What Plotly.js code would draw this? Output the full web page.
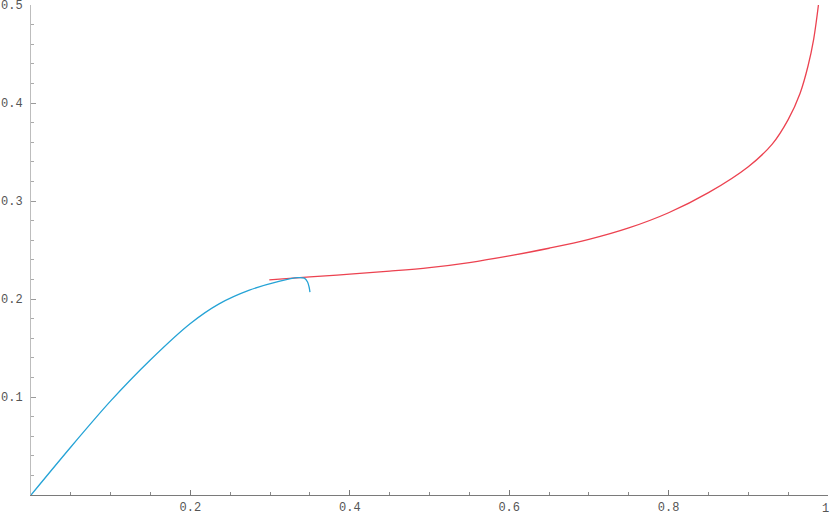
<!DOCTYPE html>
<html>
<head>
<meta charset="utf-8">
<script src="https://cdn.plot.ly/plotly-3.0.1.min.js"></script>
<style>
  html, body { margin: 0; padding: 0; background: #fff; }
  #chart { width: 830px; height: 515px; }
</style>
</head>
<body>
<div id="chart"></div>
<script>
// blue curve (rises, flattens, hooks down near x = 0.35)
var blueX = [0, 0.05, 0.1, 0.15, 0.2, 0.236, 0.274, 0.311, 0.335, 0.343, 0.347, 0.349, 0.35];
var blueY = [0, 0.049, 0.096, 0.138, 0.175, 0.195, 0.209, 0.218, 0.2218, 0.2213, 0.2174, 0.212, 0.207];

// red curve (from x = 0.3 up to the top edge)
var redX = [0.299, 0.35, 0.40, 0.45, 0.50, 0.55, 0.60, 0.65, 0.70, 0.75, 0.80, 0.85, 0.90, 0.93, 0.95, 0.965, 0.975, 0.982, 0.988];
var redY = [0.2195, 0.2225, 0.2254, 0.2284, 0.2320, 0.2372, 0.2440, 0.2518, 0.2608, 0.2725, 0.2880, 0.3085, 0.3350, 0.3580, 0.3830, 0.4100, 0.4380, 0.4650, 0.5000];

// tick labels (the last x label sits on the right edge, drawn as an annotation)
var xTickVals = [0.2, 0.4, 0.6, 0.8, 1];
var xTickText = ['0.2', '0.4', '0.6', '0.8', ''];
var xEdgeLabel = '1';
var yTickVals = [0.1, 0.2, 0.3, 0.4, 0.5];
var yTickText = ['0.1', '0.2', '0.3', '0.4', '0.5'];

var traces = [
  {
    x: redX, y: redY,
    mode: 'lines', type: 'scatter',
    line: { color: '#ec4250', width: 1.3, shape: 'spline', smoothing: 1 },
    hoverinfo: 'skip'
  },
  {
    x: blueX, y: blueY,
    mode: 'lines', type: 'scatter',
    line: { color: '#25a3d6', width: 1.3, shape: 'spline', smoothing: 0.8 },
    hoverinfo: 'skip'
  }
];

var tickFont = { family: '"Liberation Mono", "DejaVu Sans Mono", monospace', size: 12, color: '#555' };

var layout = {
  width: 830,
  height: 515,
  margin: { l: 31, r: 2, t: 5, b: 20 },
  paper_bgcolor: '#fff',
  plot_bgcolor: '#fff',
  showlegend: false,
  xaxis: {
    range: [0, 1],
    showgrid: false, zeroline: false,
    showline: true, linecolor: '#7a7a7a', linewidth: 1,
    tickmode: 'array', tickvals: xTickVals, ticktext: xTickText,
    ticks: 'inside', ticklen: 5, tickcolor: '#7a7a7a', tickwidth: 1,
    minor: { dtick: 0.05, tick0: 0, ticks: 'inside', ticklen: 3, tickcolor: '#8a8a8a', showgrid: false },
    tickfont: tickFont,
    ticklabelstandoff: 1,
    ticklabeloverflow: 'allow'
  },
  yaxis: {
    range: [0, 0.5],
    showgrid: false, zeroline: false,
    showline: true, linecolor: '#bdbdbd', linewidth: 1,
    tickmode: 'array', tickvals: yTickVals, ticktext: yTickText,
    ticks: 'inside', ticklen: 5, tickcolor: '#9a9a9a', tickwidth: 1,
    minor: { dtick: 0.02, tick0: 0, ticks: 'inside', ticklen: 3, tickcolor: '#aaaaaa', showgrid: false },
    tickfont: tickFont,
    ticklabelstandoff: 5,
    ticklabeloverflow: 'allow'
  },
  annotations: [{
    text: xEdgeLabel,
    xref: 'paper', yref: 'paper', x: 1, y: 0,
    xanchor: 'right', yanchor: 'top',
    xshift: 2, yshift: -6,
    showarrow: false, borderpad: 0,
    font: tickFont
  }]
};

Plotly.newPlot('chart', traces, layout, { displayModeBar: false, staticPlot: true });
</script>
</body>
</html>
